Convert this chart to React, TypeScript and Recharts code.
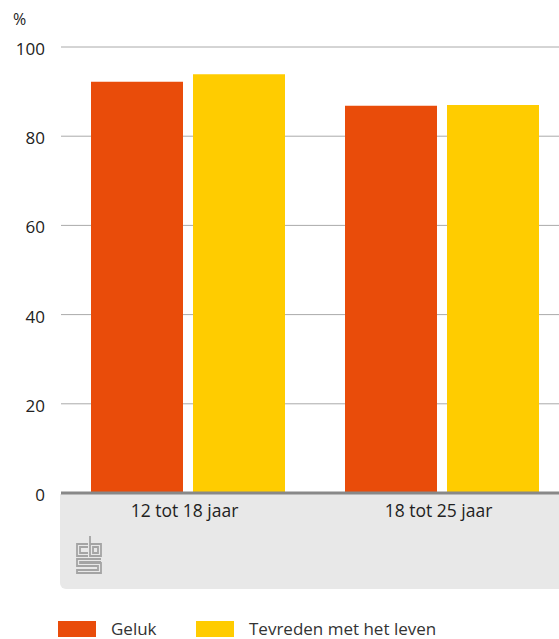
import React from 'react'
import { BarChart, Bar, XAxis, YAxis, CartesianGrid } from 'recharts'

const categories = ['12 tot 18 jaar', '18 tot 25 jaar']
const geluk = [92.2, 86.8]
const tevreden = [93.9, 87.0]
const yTicks = [0, 20, 40, 60, 80, 100]

const seriesNames = ['Geluk', 'Tevreden met het leven']
const seriesKeys = ['geluk', 'tevreden']
const seriesColors = ['#E94C0A', '#FFCC00']

const data = categories.map((c, i) => ({ cat: c, geluk: geluk[i], tevreden: tevreden[i] }))

const FONT = '"Open Sans", "Noto Sans", sans-serif'

function XTick(props: any) {
  const { x, y, payload } = props
  return (
    <text x={x - 3.5} y={y} dy={16} textAnchor="middle" fontSize={17.5} fill="#222" fontFamily={FONT}>
      {payload.value}
    </text>
  )
}

function YTick(props: any) {
  const { x, y, payload } = props
  return (
    <text x={x} y={y} dy={8} textAnchor="end" fontSize={17} fill="#222" fontFamily={FONT}>
      {payload.value}
    </text>
  )
}

function CbsLogo() {
  return (
    <svg width={28} height={40} style={{ position: 'absolute', left: 75, top: 535 }}>
      <g fill="none" stroke="#a4a4a4" strokeWidth={1.8}>
        <path d="M13 9 H2 V21 H13 M13 12 H5 V18 H13" />
        <path d="M15 1 V21 H26 V9 H15 M18 12 H23 V18 H18 Z" />
        <path d="M26 24 H2 V31 H23 V35 H2 V38 H26 V28 H5 V27 H26" />
      </g>
    </svg>
  )
}

export default function App() {
  return (
    <div style={{ position: 'relative', width: 559, height: 639, overflow: 'hidden', fontFamily: FONT, background: '#fff' }}>
      <style>{'html,body{margin:0;padding:0;overflow:hidden}'}</style>
      <div
        style={{
          position: 'absolute',
          left: 60,
          top: 494,
          width: 520,
          height: 95,
          background: '#e8e8e8',
          borderBottomLeftRadius: 6,
        }}
      />
      <CbsLogo />
      <div style={{ position: 'absolute', left: 13, top: 9, fontSize: 16, color: '#222', lineHeight: '20px' }}>%</div>
      <div style={{ position: 'absolute', left: 0, top: 0 }}>
        <BarChart
          width={575}
          height={639}
          data={data}
          margin={{ top: 47, right: 6, bottom: 116, left: 0 }}
          barSize={92}
          barGap={10}
        >
          <CartesianGrid vertical={false} stroke="#aaaaaa" strokeWidth={1} />
          <YAxis
            width={61}
            domain={[0, 100]}
            ticks={yTicks}
            axisLine={false}
            tickLine={false}
            tickSize={0}
            tickMargin={16}
            tick={<YTick />}
          />
          <XAxis
            dataKey="cat"
            axisLine={{ stroke: '#888888', strokeWidth: 3 }}
            tickLine={false}
            tick={<XTick />}
            height={30}
          />
          {seriesKeys.map((k, i) => (
            <Bar key={k} dataKey={k} name={seriesNames[i]} fill={seriesColors[i]} isAnimationActive={false} />
          ))}
        </BarChart>
      </div>
      {seriesNames.map((n, i) => (
        <div key={n} style={{ position: 'absolute', top: 620, left: i === 0 ? 58 : 196, display: 'flex', alignItems: 'center' }}>
          <div style={{ width: 38, height: 16, background: seriesColors[i] }} />
          <span style={{ marginLeft: 15, fontSize: 17, color: '#333', lineHeight: '18px' }}>{n}</span>
        </div>
      ))}
    </div>
  )
}
